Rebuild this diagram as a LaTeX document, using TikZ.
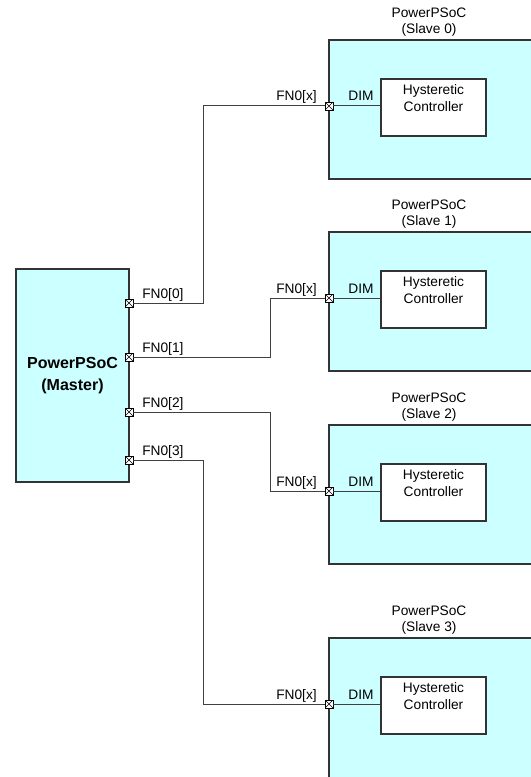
\documentclass[tikz,border=0pt]{standalone}
\usepackage{fontspec}
\setmainfont{Liberation Sans}
\usetikzlibrary{positioning}
\definecolor{chipfill}{HTML}{CCFFFF}

\tikzset{
	chip/.style={draw=black!80, line width=1.2pt, fill=chipfill, inner sep=0pt},
	ctrl/.style={draw=black!80, line width=0.8pt, fill=white,
		minimum width=105*0.75pt, minimum height=57*0.75pt, inner sep=0pt},
	ctrltext/.style={anchor=north, align=center, inner sep=0pt, yshift=-4.5pt,
		font=\fontsize{10.3}{12.75}\selectfont},
	port/.style={draw=black, line width=0.6pt, fill=white, minimum size=8*0.75pt, inner sep=0pt,
		path picture={\draw[line width=0.5pt]
			(path picture bounding box.north west) -- (path picture bounding box.south east)
			(path picture bounding box.north east) -- (path picture bounding box.south west);}},
	wire/.style={draw=black!75, line width=0.75pt},
	lbl/.style={inner sep=0pt}
}

\begin{document}
\begin{tikzpicture}[x=0.75pt, y=-0.75pt, font=\fontsize{10.3}{12}\selectfont]
	\useasboundingbox (0,0) rectangle (531,777);
	\clip (0,0) rectangle (531,777);

	% master
	\node[chip, minimum width=113*0.75pt, minimum height=213*0.75pt, align=center,
		font=\bfseries\fontsize{12}{16.5}\selectfont] (m) at (72.5,375.5) {PowerPSoC\\(Master)};

	% slaves
	\foreach \i/\ty/\hgt in {0/40/139, 1/232/139, 2/425/139, 3/638/160}{
		\node[chip, minimum width=231*0.75pt, minimum height=\hgt*0.75pt] (s\i) at (444.5,\ty+\hgt/2) {};
		\node[ctrl, label={[ctrltext]north:Hysteretic\\Controller}] (h\i) at (433.5,\ty+67.5) {};
		\node[port] (q\i) at (329,\ty+66) {};
		\node[lbl, anchor=base] (d\i) at (361,\ty+61) {DIM};
		\node[lbl, anchor=base east] (x\i) at (317,\ty+61) {FN0[x]};
		\node[lbl, anchor=south, align=center] (t\i) at (429,\ty-3) {PowerPSoC\\(Slave \i)};
		\draw[wire] (q\i.east) -- (q\i.east -| h\i.west);
	}

	% master outputs
	\foreach \i/\py in {0/303, 1/357, 2/412, 3/460}{
		\node[port] (p\i) at (129,\py) {};
		\node[lbl, anchor=base west] (f\i) at (142,\py-5) {FN0[\i]};
	}

	\coordinate (k0) at (203,0);
	\coordinate (k1) at (270,0);
	\draw[wire] (p0.east) -- (p0.east -| k0) |- (q0.west);
	\draw[wire] (p1.east) -- (p1.east -| k1) |- (q1.west);
	\draw[wire] (p2.east) -- (p2.east -| k1) |- (q2.west);
	\draw[wire] (p3.east) -- (p3.east -| k0) |- (q3.west);
\end{tikzpicture}
\end{document}
